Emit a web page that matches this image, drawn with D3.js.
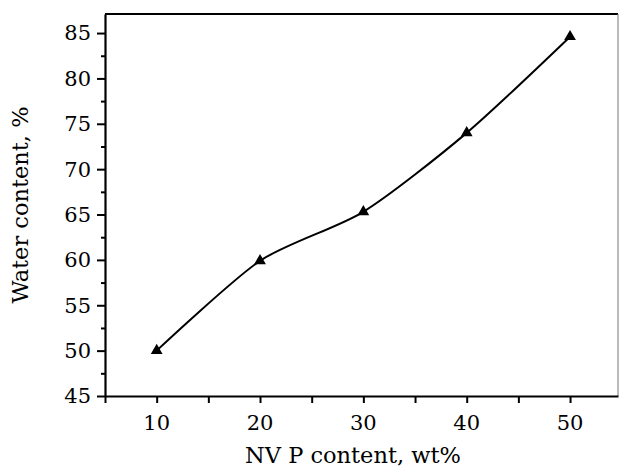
<!DOCTYPE html>
<html>
<head>
<meta charset="utf-8">
<script src="https://cdn.jsdelivr.net/npm/d3@7"></script>
<style>
  html, body { margin: 0; padding: 0; background: #fff; }
  svg { display: block; }
  text { font-family: "DejaVu Serif", "Liberation Serif", serif; fill: #000; }
</style>
</head>
<body>
<script>
// NVP content (wt%) vs. water content (%)
const nvpContent = [10, 20, 30, 40, 50];
const waterContent = [50.0, 59.9, 65.3, 74.0, 84.6];
const xTickValues = [10, 20, 30, 40, 50];
const yTickValues = [45, 50, 55, 60, 65, 70, 75, 80, 85];
const xLabel = "NV P content, wt%";
const yLabel = "Water content, %";

const W = 620, H = 472;
const m = { left: 105, right: 2, top: 14, bottom: 76 };

const svg = d3.select("body").append("svg")
  .attr("width", W).attr("height", H);

const x = d3.scaleLinear().domain([5, 54.64]).range([m.left, W - m.right]);
const y = d3.scaleLinear().domain([45, 87.1]).range([H - m.bottom, m.top]);

// frame: top and right edges
svg.append("line")
  .attr("x1", m.left).attr("x2", W - m.right)
  .attr("y1", m.top).attr("y2", m.top)
  .attr("stroke", "#000").attr("stroke-width", 2.2);
svg.append("line")
  .attr("x1", W - m.right).attr("x2", W - m.right)
  .attr("y1", m.top).attr("y2", H - m.bottom)
  .attr("stroke", "#777").attr("stroke-width", 1);

// x axis: major ticks every 10, minor every 5
const xAxisG = svg.append("g").attr("transform", `translate(0,${H - m.bottom})`);
xAxisG.call(d3.axisBottom(x).tickValues(d3.range(5, 55, 5)).tickSize(7).tickSizeOuter(0).tickFormat(""));
xAxisG.call(g => g.select(".domain").attr("stroke-width", 2.2));
xAxisG.selectAll(".tick line").attr("stroke-width", 2);
xAxisG.selectAll(".xt").data(xTickValues).join("text")
  .attr("class", "xt")
  .attr("x", d => x(d)).attr("y", 34)
  .attr("text-anchor", "middle")
  .style("font-size", "21px")
  .text(d => d);

// y axis: major ticks every 5, minor every 2.5
const yAxisG = svg.append("g").attr("transform", `translate(${m.left},0)`);
yAxisG.call(d3.axisLeft(y).tickValues(d3.range(45, 87.5, 2.5)).tickSizeOuter(0).tickFormat(""));
yAxisG.call(g => g.select(".domain").attr("stroke-width", 2.2));
yAxisG.selectAll(".tick line")
  .attr("stroke-width", 2)
  .attr("x2", d => (Math.abs(d % 5) < 1e-9 ? -8 : -4));
yAxisG.selectAll(".yt").data(yTickValues).join("text")
  .attr("class", "yt")
  .attr("x", -14).attr("y", d => y(d))
  .attr("dy", "0.35em")
  .attr("text-anchor", "end")
  .style("font-size", "21px")
  .text(d => d);

// axis titles
svg.append("text")
  .attr("x", 353).attr("y", 463)
  .attr("text-anchor", "middle")
  .style("font-size", "22.5px")
  .text(xLabel);
svg.append("text")
  .attr("transform", `translate(28,205) rotate(-90)`)
  .attr("text-anchor", "middle")
  .style("font-size", "22.5px")
  .text(yLabel);

// smooth curve through the points
const pts = nvpContent.map((v, i) => [v, waterContent[i]]);
svg.append("path")
  .datum(pts)
  .attr("fill", "none")
  .attr("stroke", "#000")
  .attr("stroke-width", 2)
  .attr("d", d3.line().x(d => x(d[0])).y(d => y(d[1])).curve(d3.curveCardinal.tension(0.25)));

// triangle markers
svg.selectAll(".pt").data(pts).join("path")
  .attr("class", "pt")
  .attr("transform", d => `translate(${x(d[0])},${y(d[1])})`)
  .attr("d", d3.symbol(d3.symbolTriangle, 60))
  .attr("fill", "#000");
</script>
</body>
</html>
